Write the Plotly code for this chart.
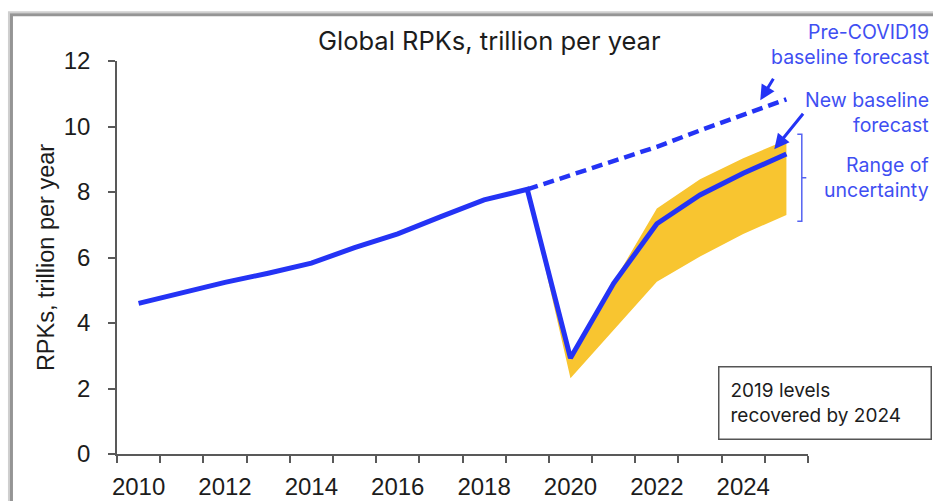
import plotly.graph_objects as go

# ---- data (trillion revenue passenger kilometres) ----
years = list(range(2010, 2026))
rpk = [4.60, 4.92, 5.24, 5.52, 5.83, 6.30, 6.72, 7.25, 7.76, 8.08,
       2.93, 5.21, 7.03, 7.91, 8.57, 9.16]

pre_covid_years = list(range(2019, 2026))
pre_covid = [8.08, 8.52, 8.93, 9.38, 9.88, 10.35, 10.83]

band_years = list(range(2019, 2026))
band_upper = [8.08, 2.95, 5.25, 7.50, 8.39, 9.03, 9.59]
band_lower = [8.08, 2.31, 3.80, 5.26, 6.03, 6.72, 7.30]

label_years = [2010, 2012, 2014, 2016, 2018, 2020, 2022, 2024]
y_ticks = [0, 2, 4, 6, 8, 10, 12]

# ---- styling ----
W, H = 933, 501
L, R, T, B = 117, 807.7, 60.7, 454
BLUE = "#2433F5"
TEXT_BLUE = "#3F4FF2"
YELLOW = "#F8C530"
AXIS = "#595959"
INK = "#1c1c1c"
FONT = "Liberation Sans, Arial, sans-serif"
TFONT = "Inter, sans-serif"


def px(x):
    return (x - L) / (R - L)


def py(y):
    return (B - y) / (B - T)


fig = go.Figure()

# uncertainty range
fig.add_trace(go.Scatter(
    x=band_years + band_years[::-1],
    y=band_upper + band_lower[::-1],
    fill="toself", fillcolor=YELLOW, mode="lines",
    line=dict(width=0, color=YELLOW), hoverinfo="skip", showlegend=False,
))

# pre-COVID19 baseline forecast
fig.add_trace(go.Scatter(
    x=pre_covid_years, y=pre_covid, mode="lines",
    line=dict(color=BLUE, width=4.5, dash="11px,6px"), showlegend=False,
))

# history + new baseline forecast
fig.add_trace(go.Scatter(
    x=years, y=rpk, mode="lines",
    line=dict(color=BLUE, width=5), showlegend=False,
))

# invisible trace so the label axis is drawn
fig.add_trace(go.Scatter(x=[2010], y=[0], xaxis="x2", mode="markers",
                         marker=dict(opacity=0), hoverinfo="skip", showlegend=False))

fig.update_layout(
    width=W, height=H,
    margin=dict(l=L, r=W - R, t=T, b=H - B, pad=0),
    paper_bgcolor="white", plot_bgcolor="white",
    font=dict(family=FONT, color=INK),
    xaxis=dict(
        range=[2009.5, 2025.5], tickmode="array",
        tickvals=[y - 0.5 for y in years] + [2025.5],
        showticklabels=False, ticks="outside", ticklen=7, tickwidth=1.5,
        tickcolor=AXIS, showline=True, linecolor=AXIS, linewidth=1.5,
        showgrid=False, zeroline=False, fixedrange=True, automargin=False,
    ),
    xaxis2=dict(
        range=[2009.5, 2025.5], overlaying="x", side="bottom", anchor="y",
        tickmode="array", tickvals=label_years, ticktext=[str(v) for v in label_years],
        ticks="", showline=False, showgrid=False, zeroline=False, automargin=False,
        tickfont=dict(size=24, family=FONT, color=INK), ticklabelstandoff=16,
    ),
    yaxis=dict(
        range=[0, 12], tickmode="array", tickvals=y_ticks,
        ticks="outside", ticklen=7, tickwidth=1.5, tickcolor=AXIS,
        showline=True, linecolor=AXIS, linewidth=1.5, showgrid=False,
        zeroline=False, tickfont=dict(size=24, family=FONT, color=INK),
        ticklabelstandoff=13, automargin=False,
        title=dict(text="RPKs, trillion per year", font=dict(size=23.5, family=FONT, color=INK),
                   standoff=3),
    ),
)

annotations = [
    dict(text="Global RPKs, trillion per year", x=px(489), y=py(40), xref="paper", yref="paper",
         showarrow=False, xanchor="center", yanchor="middle",
         font=dict(size=25.5, family=TFONT, color=INK)),
    dict(text="2019 levels<br>recovered by 2024", x=px(718), y=py(366), xref="paper", yref="paper",
         xanchor="left", yanchor="top", align="left", showarrow=False,
         bordercolor="#555555", borderwidth=1.5, borderpad=11, bgcolor="white",
         width=188.5, height=48.5, font=dict(size=19, family=TFONT, color=INK)),
]

side_notes = [
    ("Pre-COVID19", 32), ("baseline forecast", 57),
    ("New baseline", 100), ("forecast", 125),
    ("Range of", 165), ("uncertainty", 190),
]
for txt, yy in side_notes:
    annotations.append(dict(text=txt, x=px(931), y=py(yy), xref="paper", yref="paper",
                            xanchor="right", yanchor="middle", showarrow=False,
                            font=dict(size=19.5, family=TFONT, color=TEXT_BLUE)))

# pointer arrows
for tip, tail in [((760, 100), (774, 77)), ((774, 149), (804, 112))]:
    annotations.append(dict(text="", x=px(tip[0]), y=py(tip[1]), xref="paper", yref="paper",
                            ax=tail[0] - tip[0], ay=tail[1] - tip[1], axref="pixel", ayref="pixel",
                            showarrow=True, arrowhead=2, arrowsize=1, arrowwidth=3,
                            arrowcolor=BLUE))
fig.update_layout(annotations=annotations)

# bracket for the range of uncertainty
bx = 801.5
bracket = (f"M {px(797)},{py(134)} L {px(bx)},{py(134)} L {px(bx)},{py(221)} L {px(797)},{py(221)} "
           f"M {px(bx)},{py(177.5)} L {px(806)},{py(177.5)}")
shapes = [
    dict(type="path", path=bracket, xref="paper", yref="paper",
         line=dict(color="#5563F2", width=1.5)),
    # window frame with soft shadow
    dict(type="rect", xref="paper", yref="paper", x0=px(9), y0=py(12), x1=px(1200), y1=py(800),
         line=dict(color="#cfcfcf", width=2)),
    dict(type="rect", xref="paper", yref="paper", x0=px(11.5), y0=py(14.5), x1=px(1200), y1=py(800),
         line=dict(color="#959595", width=3)),
]
fig.update_layout(shapes=shapes)

fig.write_html("out.html")
